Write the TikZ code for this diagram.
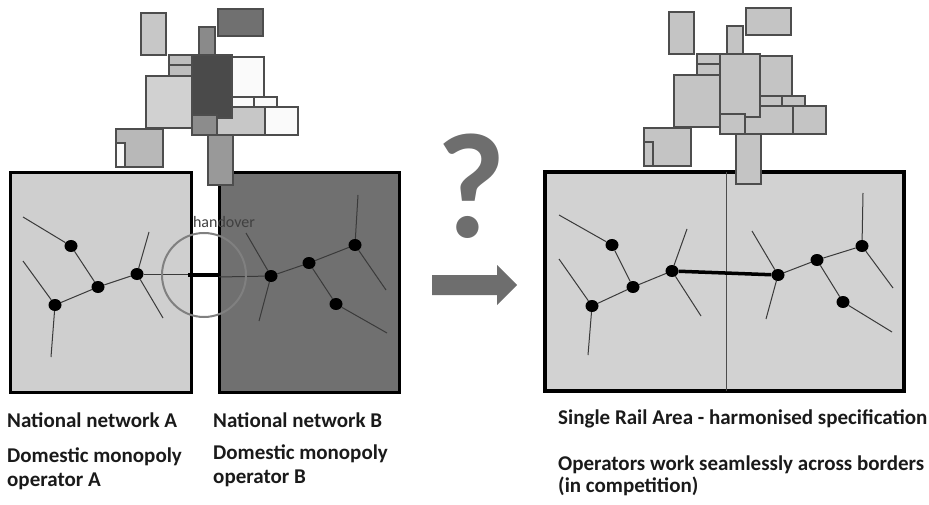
\documentclass[tikz,border=0pt]{standalone}
\usepackage{fontspec}
\setmainfont{Carlito}
\usetikzlibrary{shapes.geometric}
\definecolor{boxa}{HTML}{CFCFCF}
\definecolor{boxb}{HTML}{707070}
\definecolor{boxr}{HTML}{D2D2D2}
\definecolor{blkedge}{HTML}{4D4D4D}
\definecolor{netline}{HTML}{3A3A3A}
\definecolor{qgray}{HTML}{6E6E6E}
\definecolor{circgray}{HTML}{808080}
\definecolor{rgray}{HTML}{C4C4C4}
\definecolor{txt}{HTML}{1A1A1A}
\definecolor{hotxt}{HTML}{404040}
\tikzset{
  blk/.style={draw=blkedge, line width=1.9pt},
  fa/.style={fill=black!22},
  fb/.style={fill=black!56},
  fc/.style={fill=black!46},
  fd/.style={fill=black!26},
  fw/.style={fill=black!2},
  fe/.style={fill=black!18},
  ff/.style={fill=black!28},
  fg/.style={fill=black!22},
  fdk/.style={fill=black!71},
  fm/.style={fill=black!45},
  fcol/.style={fill=black!40},
  dot/.style={ellipse, fill=black, inner sep=0pt, minimum width=13pt, minimum height=12pt},
  net/.style={draw=netline, line width=1pt},
  lbl/.style={anchor=base west, inner sep=0pt, font=\fontsize{21}{24}\selectfont\bfseries, text=txt},
}
\newcommand\clusterblocks{%
  \draw[blk,fa] (141,13) rectangle (166,55);
  \draw[blk,fb] (218,9) rectangle (263,36);
  \draw[blk,fc] (199,27) rectangle (215,55);
  \draw[blk,fd] (169,55) rectangle (192,65);
  \draw[blk,fd] (169,65) rectangle (192,76);
  \draw[blk,fw] (232,57) rectangle (264,97);
  \draw[blk,fe] (146,76) rectangle (192,128);
  \draw[blk,ff] (116,129) rectangle (163,167);
  \draw[blk,fw] (116,143) rectangle (125,167);
  \draw[blk,fw] (232,97) rectangle (254,107);
  \draw[blk,fw] (254,97) rectangle (277,107);
  \draw[blk,fg] (217,107) rectangle (265,135);
  \draw[blk,fw] (265,107) rectangle (298,135);
  \draw[blk,fdk] (192,55) rectangle (232,118);
  \draw[blk,fm] (192,115) rectangle (217,135);
  \draw[blk,fcol] (208,135) rectangle (233,185);
}
\begin{document}
\begin{tikzpicture}[x=1pt,y=-1pt]
\useasboundingbox (0,0) rectangle (929,505);

% boxes
\draw[fill=boxa, line width=3pt] (10,173) rectangle (191,392);
\draw[fill=boxb, line width=3pt] (219,173) rectangle (399,392);
\draw[fill=boxr, line width=4pt] (545,172) rectangle (904,391);
\draw[draw=black!70, line width=1pt] (726,172) -- (726,391);

% clusters
\clusterblocks
\begin{scope}[shift={(528,-1)},
  fa/.style={fill=rgray}, fb/.style={fill=rgray}, fc/.style={fill=rgray},
  fd/.style={fill=rgray}, fw/.style={fill=rgray}, fe/.style={fill=rgray},
  ff/.style={fill=rgray}, fg/.style={fill=rgray}, fdk/.style={fill=rgray},
  fm/.style={fill=rgray}, fcol/.style={fill=rgray}]
\clusterblocks
\end{scope}

% network A
\node[dot] (a1) at (71,246) {};
\node[dot] (a2) at (98,287) {};
\node[dot] (a3) at (137,274) {};
\node[dot] (a4) at (55,305) {};
\coordinate (ae1) at (23,217);
\coordinate (ae2) at (23,261);
\coordinate (ae3) at (51,357);
\coordinate (ae4) at (149,232);
\coordinate (ae5) at (163,318);
\coordinate (ae6) at (192,274);
\draw[net] (a1) -- (ae1);
\draw[net] (a1) -- (a2);
\draw[net] (a2) -- (a3);
\draw[net] (a2) -- (a4);
\draw[net] (a4) -- (ae2);
\draw[net] (a4) -- (ae3);
\draw[net] (a3) -- (ae4);
\draw[net] (a3) -- (ae5);
\draw[net] (a3) -- (ae6);

% network B
\node[dot] (b1) at (271,276) {};
\node[dot] (b2) at (309,263) {};
\node[dot] (b3) at (355,245) {};
\node[dot] (b4) at (336,304) {};
\coordinate (be1) at (219,277);
\coordinate (be2) at (246,233);
\coordinate (be3) at (259,321);
\coordinate (be4) at (358,195);
\coordinate (be5) at (386,290);
\coordinate (be6) at (387,333);
\draw[net] (b1) -- (be1);
\draw[net] (b1) -- (be2);
\draw[net] (b1) -- (be3);
\draw[net] (b1) -- (b2);
\draw[net] (b2) -- (b3);
\draw[net] (b2) -- (b4);
\draw[net] (b3) -- (be4);
\draw[net] (b3) -- (be5);
\draw[net] (b4) -- (be6);

% handover
\coordinate (hl) at (188,275);
\coordinate (hr) at (218,275);
\draw[line width=4pt] (hl) -- (hr);
\node[circle, draw=circgray, line width=2pt, minimum size=84pt, inner sep=0pt] (ho) at (204,275) {};
\node[font=\fontsize{16}{16}\selectfont, text=hotxt, inner sep=0pt] (hot) at (224,222) {handover};

% right network
\node[dot] (c1) at (612,245) {};
\node[dot] (c2) at (633,287) {};
\node[dot] (c3) at (672,271) {};
\node[dot] (c4) at (592,306) {};
\node[dot] (d1) at (778,275) {};
\node[dot] (d2) at (817,260) {};
\node[dot] (d3) at (862,246) {};
\node[dot] (d4) at (843,302) {};
\coordinate (ce1) at (559,215);
\coordinate (ce2) at (559,259);
\coordinate (ce3) at (588,355);
\coordinate (ce4) at (687,229);
\coordinate (ce5) at (701,316);
\coordinate (de1) at (752,231);
\coordinate (de2) at (766,319);
\coordinate (de3) at (863,193);
\coordinate (de4) at (893,288);
\coordinate (de5) at (892,332);
\draw[net] (c1) -- (ce1);
\draw[net] (c1) -- (c2);
\draw[net] (c2) -- (c3);
\draw[net] (c2) -- (c4);
\draw[net] (c4) -- (ce2);
\draw[net] (c4) -- (ce3);
\draw[net] (c3) -- (ce4);
\draw[net] (c3) -- (ce5);
\draw[line width=3.5pt] (c3) -- (d1);
\draw[net] (d1) -- (de1);
\draw[net] (d1) -- (de2);
\draw[net] (d1) -- (d2);
\draw[net] (d2) -- (d3);
\draw[net] (d2) -- (d4);
\draw[net] (d3) -- (de3);
\draw[net] (d3) -- (de4);
\draw[net] (d4) -- (de5);

% question mark and arrow
\node[font=\fontsize{150}{150}\selectfont\bfseries, text=qgray, inner sep=0pt] (q) at (471,186) {?};
\fill[qgray] (432,275) -- (497,275) -- (497,265) -- (517,285) -- (497,305) -- (497,295) -- (432,295) -- cycle;

% labels
\node[lbl] (tA1) at (7,427) {National network A};
\node[lbl] (tA2) at (7,462) {Domestic monopoly};
\node[lbl] (tA3) at (7,486) {operator A};
\node[lbl] (tB1) at (213,427) {National network B};
\node[lbl] (tB2) at (213,459) {Domestic monopoly};
\node[lbl] (tB3) at (213,483) {operator B};
\node[lbl] (tR1) at (558,424) {Single Rail Area - harmonised specification};
\node[lbl] (tR2) at (558,470) {Operators work seamlessly across borders};
\node[lbl] (tR3) at (558,492) {(in competition)};
\end{tikzpicture}
\end{document}
